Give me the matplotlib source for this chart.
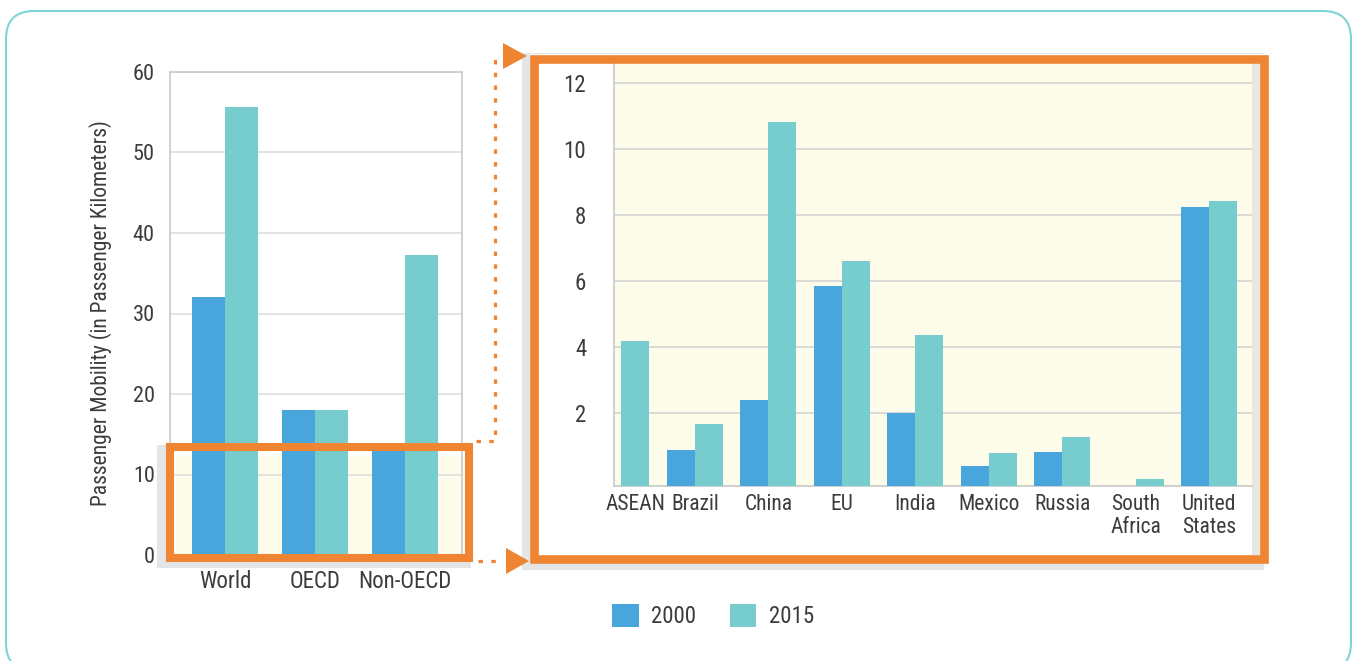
import numpy as np
import matplotlib
matplotlib.use("Agg")
import matplotlib.pyplot as plt
from matplotlib import font_manager
from matplotlib.patches import Rectangle, FancyBboxPatch, Polygon
from matplotlib.transforms import ScaledTranslation

# data
years = ["2000", "2015"]
regions = ["World", "OECD", "Non-OECD"]
regions_2000 = [32.0, 18.0, 13.6]
regions_2015 = [55.6, 18.0, 37.3]

countries = ["ASEAN", "Brazil", "China", "EU", "India", "Mexico", "Russia",
             "South\nAfrica", "United\nStates"]
countries_2000 = [np.nan, 0.9, 2.4, 5.85, 2.0, 0.4, 0.82, np.nan, 8.24]
countries_2015 = [4.18, 1.67, 10.82, 6.6, 4.36, 0.81, 1.27, 0.0, 8.42]

# colours
BLUE = "#48a6dc"
TEAL = "#77cccd"
ORANGE = "#ef8432"
CREAM = "#fdfbe9"
SHADOW = "#e4e5e7"
TEXT = "#3c3c3c"

# pick a narrow font if there is one
names = set(f.name for f in font_manager.fontManager.ttflist)
font = "DejaVu Sans"
for cand in ["Liberation Sans Narrow", "DejaVu Sans Condensed", "Roboto Condensed", "Liberation Sans"]:
    if cand in names:
        font = cand
        break
plt.rcParams["font.family"] = [font, "DejaVu Sans"]

W, H = 1355, 661
fig = plt.figure(figsize=(W / 100, H / 100), dpi=100)

def px_axes(x0, y0, x1, y1, **kw):
    # axes placed from pixel box (top-left origin)
    return fig.add_axes([x0 / W, 1 - y1 / H, (x1 - x0) / W, (y1 - y0) / H], **kw)

# background layer in pixel coordinates
bg = fig.add_axes([0, 0, 1, 1], zorder=-5)
bg.set_xlim(0, W)
bg.set_ylim(H, 0)
bg.axis("off")
bg.add_patch(FancyBboxPatch((6, 11), 1345, 660, boxstyle="round,pad=0,rounding_size=28",
                            fc="white", ec="#80d4d4", lw=1.5))
# left zoom box: shadow + cream
bg.add_patch(Rectangle((157, 445), 314, 123, fc=SHADOW, ec="none"))
bg.add_patch(Rectangle((166, 443), 308, 119, fc="white", ec="none"))
bg.add_patch(Rectangle((176, 456), 288, 98, fc=CREAM, ec="none"))
# right frame: shadow + white + inner strip
bg.add_patch(Rectangle((522, 53), 742, 517, fc=SHADOW, ec="none"))
bg.add_patch(Rectangle((530, 54), 738, 509, fc="white", ec="none"))
bg.add_patch(Rectangle((1252, 62), 9, 493, fc="#e8e7e2", ec="none"))

# left chart
ax1 = px_axes(170, 72, 462, 555, zorder=1)
ax1.set_facecolor("none")
x = np.arange(len(regions))
bw = 0.37
ax1.bar(x - bw / 2, regions_2000, bw, color=BLUE, zorder=3, label=years[0])
ax1.bar(x + bw / 2, regions_2015, bw, color=TEAL, zorder=3, label=years[1])
ax1.set_xlim(-0.611, 2.633)
ax1.set_ylim(0, 60)
ax1.set_yticks(np.arange(0, 61, 10))
ax1.set_xticks(x)
ax1.set_xticklabels(regions)
ax1.grid(axis="y", color="#dedede", lw=1.2, zorder=1)
ax1.tick_params(length=0, labelsize=16, colors=TEXT)
ax1.tick_params(axis="y", pad=11)
ax1.tick_params(axis="x", pad=11, labelsize=16.5)
for s in ["left", "right", "top"]:
    ax1.spines[s].set_color("#c9c9c9")
    ax1.spines[s].set_linewidth(1.2)
ax1.spines["bottom"].set_visible(False)
ax1.set_ylabel("Passenger Mobility (in Passenger Kilometers)", fontsize=15.5, color=TEXT)
ax1.yaxis.set_label_coords(-0.20, 0.5)

# right chart
ax2 = px_axes(614, 63, 1252, 486, zorder=1)
ax2.set_facecolor(CREAM)
xc = np.arange(len(countries))
bw2 = 0.38
y0 = -0.2
ax2.bar(xc - bw2 / 2, np.array(countries_2000) - y0, bw2, bottom=y0, color=BLUE, zorder=3)
ax2.bar(xc + bw2 / 2, np.array(countries_2015) - y0, bw2, bottom=y0, color=TEAL, zorder=3)
ax2.set_xlim(-0.1, 8.58)
ax2.set_ylim(y0, 12.6)
ax2.set_yticks(np.arange(2, 13, 2))
ax2.set_xticks(xc)
ax2.set_xticklabels(countries, linespacing=1.1)
ax2.grid(axis="y", color="#d4d4d4", lw=1.2, zorder=1)
ax2.tick_params(length=0, labelsize=16.5, colors=TEXT)
ax2.tick_params(axis="y", pad=20)
ax2.tick_params(axis="x", pad=6, labelsize=15.5)
for s in ["top", "right"]:
    ax2.spines[s].set_visible(False)
for s in ["left", "bottom"]:
    ax2.spines[s].set_color("#c9c9c9")
    ax2.spines[s].set_linewidth(1.2)
# first label sits to the right of its bar, as in the original
lab0 = ax2.get_xticklabels()[0]
lab0.set_transform(lab0.get_transform() + ScaledTranslation(0.14, 0, fig.dpi_scale_trans))

# overlay: orange boxes, connectors
fg = fig.add_axes([0, 0, 1, 1], zorder=10)
fg.set_facecolor("none")
fg.set_xlim(0, W)
fg.set_ylim(H, 0)
fg.axis("off")
fg.add_patch(Rectangle((170, 446.5), 299, 111, fc="none", ec=ORANGE, lw=5.8, joinstyle="miter"))
fg.add_patch(Rectangle((534, 58.5), 730, 500.5, fc="none", ec=ORANGE, lw=6.2, joinstyle="miter"))
dots = dict(color=ORANGE, lw=2.3, dashes=(1.4, 2.6), solid_capstyle="butt")
fg.plot([476, 495, 495], [441, 441, 54], **dots)
fg.plot([478, 500], [561, 561], **dots)
fg.add_patch(Polygon([[503, 43], [503, 69], [527, 56]], fc=ORANGE, ec="none"))
fg.add_patch(Polygon([[506, 548], [506, 574], [529, 561]], fc=ORANGE, ec="none"))

# legend
h, l = ax1.get_legend_handles_labels()
fig.legend(h, l, loc="center left", bbox_to_anchor=(612 / W, 1 - 616 / H), ncol=2,
           frameon=False, fontsize=16.5, labelcolor=TEXT, handlelength=1.17,
           handleheight=1.17, handletextpad=0.55, columnspacing=1.45,
           borderpad=0, borderaxespad=0)

fig.savefig("out.png", dpi=100)
